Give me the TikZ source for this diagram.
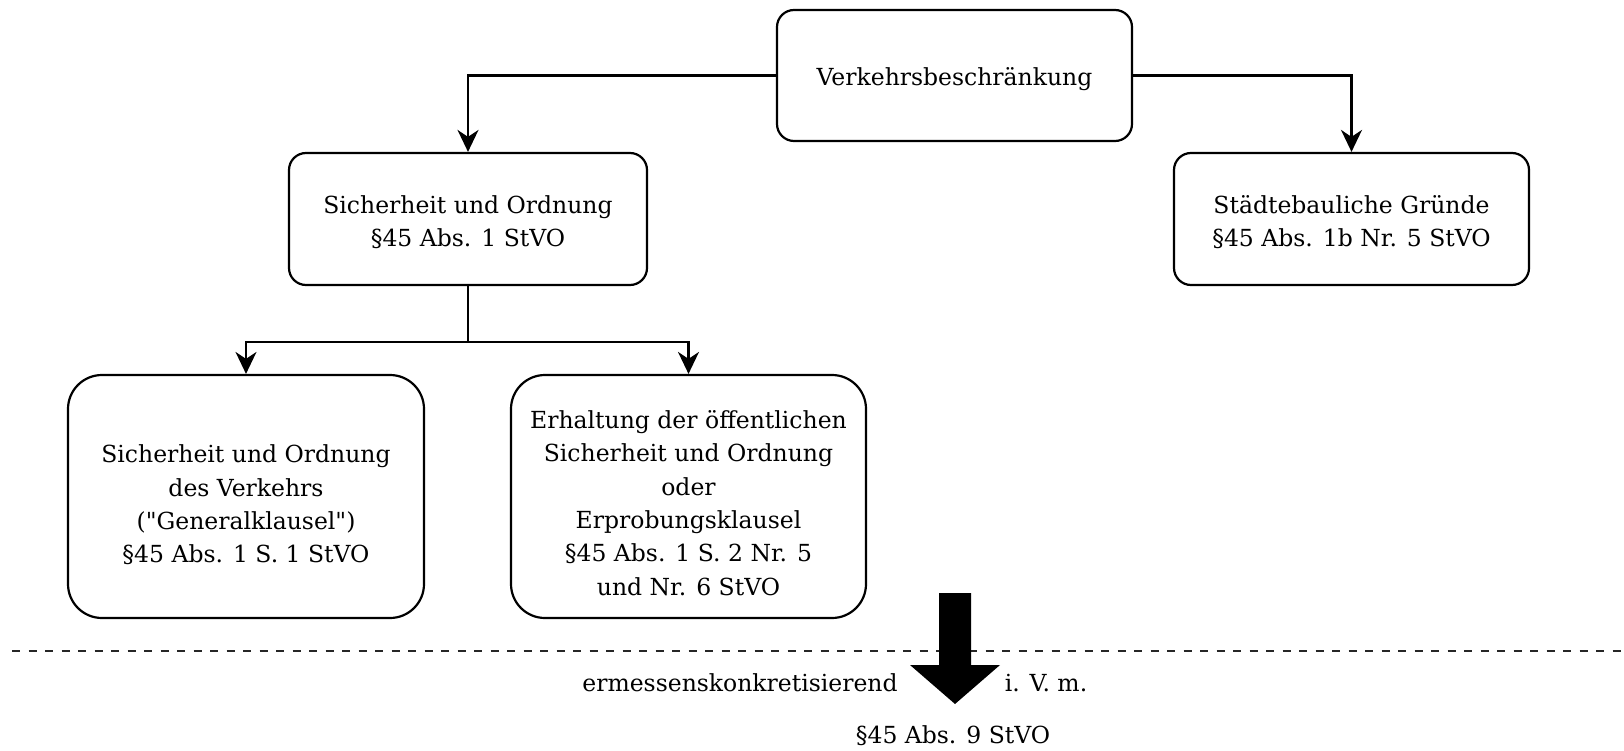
\documentclass[tikz,border=0pt]{standalone}
\usepackage{fontspec}
\setmainfont{DejaVu Serif}[Ligatures=TeXOff]
\usetikzlibrary{arrows.meta,positioning}
\begin{document}
\begin{tikzpicture}[x=1pt,y=-1pt,
  every node/.style={font=\fontsize{23.5}{33.4}\selectfont, align=center, inner sep=0pt},
  box/.style={draw, line width=2.2pt, rounded corners=17pt},
  bigbox/.style={draw, line width=2.2pt, rounded corners=34pt},
  conn/.style={line width=2.2pt, -{Stealth[length=22pt,width=21pt,inset=7pt]}},
  plain/.style={line width=2.2pt},
  sep/.style={line width=2pt, dash pattern=on 8pt off 8.5pt, black!85},
  blockarrow/.style={fill=black, draw=none}
]
\useasboundingbox (0,0) rectangle (1624,751);
\node[box, minimum width=355pt, minimum height=131pt] (top) at (954.5,75.5) {};
\node (toptxt) at (954.5,79) {Verkehrsbeschränkung};
\node[box, minimum width=358pt, minimum height=132pt] (mid) at (468,219) {};
\node (midtxt) at (468,222) {Sicherheit und Ordnung\\§45 Abs. 1 StVO};
\node[box, minimum width=355pt, minimum height=132pt] (right) at (1351.5,219) {};
\node (righttxt) at (1351.5,222) {Städtebauliche Gründe\\§45 Abs. 1b Nr. 5 StVO};
\node[bigbox, minimum width=356pt, minimum height=243pt] (bl) at (246,496.5) {};
\node (bltxt) at (246,505) {Sicherheit und Ordnung\\des Verkehrs\\("Generalklausel")\\§45 Abs. 1 S. 1 StVO};
\node[bigbox, minimum width=355pt, minimum height=243pt] (bm) at (688.5,496.5) {};
\node (bmtxt) at (688.5,503) {Erhaltung der öffentlichen\\Sicherheit und Ordnung\\oder\\Erprobungsklausel\\§45 Abs. 1 S. 2 Nr. 5\\und Nr. 6 StVO};

\draw[conn] (top.west) -| (mid.north);
\draw[conn] (top.east) -| (right.north);
\coordinate (split) at (468,342);
\draw[plain] (mid.south) -- (split);
\draw[conn] (split) -| (bl.north);
\draw[conn] (split) -| (bm.north);

\coordinate (dl) at (12,651);
\coordinate (dr) at (1624,651);
\draw[sep] (dl) -- (dr);

\fill[blockarrow] (939,593) -- (971,593) -- (971,665) -- (1000,665) -- (955,704) -- (910,665) -- (939,665) -- cycle;

\node (erm) at (740,683) {ermessenskonkretisierend};
\node (ivm) at (1046,683) {i. V. m.};
\node (p9) at (953,736) {§45 Abs. 9 StVO};
\end{tikzpicture}
\end{document}
